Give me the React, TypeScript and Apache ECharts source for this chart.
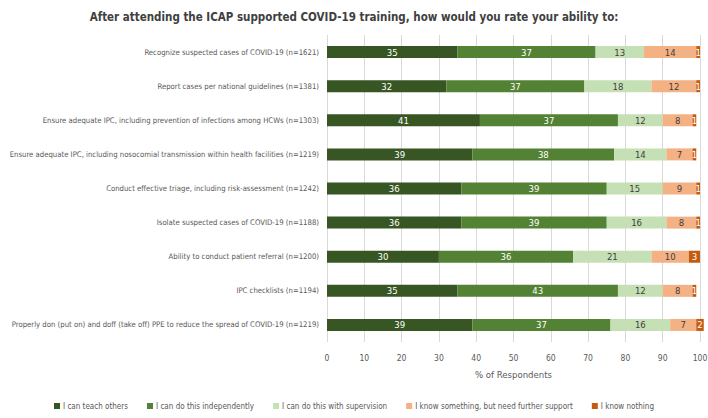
import React, { useEffect, useRef } from "react";
import * as echarts from "echarts";

const categories = [
  "Recognize suspected cases of COVID-19 (n=1621)",
  "Report cases per national guidelines (n=1381)",
  "Ensure adequate IPC, including prevention of infections among HCWs (n=1303)",
  "Ensure adequate IPC, including nosocomial transmission within health facilities (n=1219)",
  "Conduct effective triage, including risk-assessment (n=1242)",
  "Isolate suspected cases of COVID-19 (n=1188)",
  "Ability to conduct patient referral (n=1200)",
  "IPC checklists (n=1194)",
  "Properly don (put on) and doff (take off) PPE to reduce the spread of COVID-19 (n=1219)",
];

const teachOthers = [35, 32, 41, 39, 36, 36, 30, 35, 39];
const independently = [37, 37, 37, 38, 39, 39, 36, 43, 37];
const withSupervision = [13, 18, 12, 14, 15, 16, 21, 12, 16];
const needSupport = [14, 12, 8, 7, 9, 8, 10, 8, 7];
const knowNothing = [1, 1, 1, 1, 1, 1, 3, 1, 2];

const seriesNames = [
  "I can teach others",
  "I can do this independently",
  "I can do this with supervision",
  "I know something, but need further support",
  "I know nothing",
];
const seriesData = [teachOthers, independently, withSupervision, needSupport, knowNothing];
const colors = ["#375623", "#548235", "#C5E0B4", "#F4B183", "#C55A11"];
const labelColors = ["#ffffff", "#ffffff", "#404040", "#404040", "#ffffff"];

const xTicks = [0, 10, 20, 30, 40, 50, 60, 70, 80, 90, 100];

const FONT = "'DejaVu Sans Condensed', 'Liberation Sans Narrow', sans-serif";

export default function App() {
  const ref = useRef<HTMLDivElement>(null);
  useEffect(() => {
    document.body.style.margin = "0";
    if (!ref.current) return;
    const chart = echarts.init(ref.current, undefined, { renderer: "svg" });
    chart.setOption({
      animation: false,
      textStyle: { fontFamily: FONT },
      title: {
        text: "After attending the ICAP supported COVID-19 training, how would you rate your ability to:",
        left: "center",
        top: 6,
        textStyle: { fontFamily: FONT, fontSize: 11.5, fontWeight: "bold", color: "#404040" },
      },
      legend: {
        bottom: 3,
        left: "center",
        itemWidth: 6,
        itemHeight: 6,
        itemGap: 19,
        icon: "rect",
        textStyle: { fontFamily: FONT, fontSize: 8, color: "#595959", padding: [0, 0, 0, -2] },
        data: seriesNames,
      },
      grid: { left: 327, right: 8, top: 35, bottom: 76, outerBoundsMode: "none", containLabel: false },
      xAxis: {
        type: "value",
        min: 0,
        max: 100,
        interval: 10,
        name: "% of Respondents",
        nameLocation: "middle",
        nameGap: 27,
        nameTextStyle: { fontFamily: FONT, fontSize: 9.5, color: "#595959" },
        axisLine: { show: false },
        axisTick: { show: false },
        axisLabel: {
          fontFamily: FONT,
          fontSize: 8.5,
          color: "#595959",
          margin: 11,
          formatter: (v: number) => (xTicks.includes(v) ? String(v) : ""),
        },
        splitLine: { show: true, lineStyle: { color: "#d9d9d9", width: 1 } },
      },
      yAxis: {
        type: "category",
        inverse: true,
        data: categories,
        axisLine: { show: false },
        axisTick: { show: false },
        axisLabel: { fontFamily: FONT, fontSize: 7.7, color: "#595959", margin: 8 },
      },
      series: seriesNames.map((name, i) => ({
        name,
        type: "bar",
        stack: "total",
        barWidth: 12,
        clip: false,
        itemStyle: { color: colors[i] },
        label: {
          show: true,
          position: "inside",
          fontFamily: FONT,
          fontSize: 9.5,
          color: labelColors[i],
        },
        data: seriesData[i],
      })),
    });
    return () => chart.dispose();
  }, []);
  return <div ref={ref} style={{ width: 708, height: 418 }} />;
}
